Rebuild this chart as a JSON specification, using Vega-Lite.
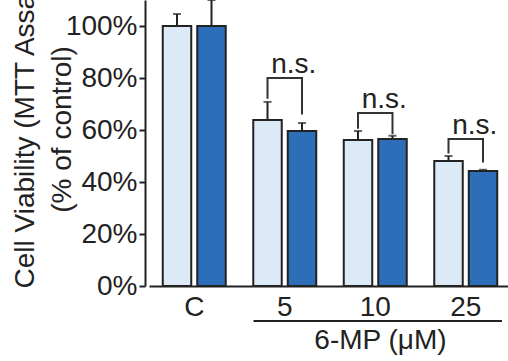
{
  "$schema": "https://vega.github.io/schema/vega-lite/v6.json",
  "autosize": {"type": "none"},
  "width": 363,
  "height": 286,
  "padding": {"left": 145, "top": 0, "right": 0, "bottom": 75},
  "background": "white",
  "config": {
    "view": {"stroke": null},
    "font": "Liberation Sans",
    "axis": {"domainColor": "#222", "domainWidth": 2, "labelFont": "Liberation Sans", "titleFont": "Liberation Sans", "labelColor": "#222", "titleColor": "#222", "labelFontSize": 28, "titleFontSize": 28, "titleFontWeight": "normal", "grid": false}
  },
  "datasets": {
    "bars": [
      {"group": "C", "series": "a", "value": 100, "hi": 104.6},
      {"group": "C", "series": "b", "value": 100, "hi": 110},
      {"group": "5", "series": "a", "value": 63.8, "hi": 70.8},
      {"group": "5", "series": "b", "value": 59.6, "hi": 62.7},
      {"group": "10", "series": "a", "value": 56.2, "hi": 59.6},
      {"group": "10", "series": "b", "value": 56.5, "hi": 57.8},
      {"group": "25", "series": "a", "value": 48.1, "hi": 50.0},
      {"group": "25", "series": "b", "value": 44.2, "hi": 44.7}
    ],
    "brackets": [
      {"group": "5", "series": "a", "y": 72, "idx": 0},
      {"group": "5", "series": "a", "y": 80, "idx": 1},
      {"group": "5", "series": "b", "y": 80, "idx": 2},
      {"group": "5", "series": "b", "y": 66, "idx": 3},
      {"group": "10", "series": "a", "y": 60.5, "idx": 0},
      {"group": "10", "series": "a", "y": 66.5, "idx": 1},
      {"group": "10", "series": "b", "y": 66.5, "idx": 2},
      {"group": "10", "series": "b", "y": 58.5, "idx": 3},
      {"group": "25", "series": "a", "y": 51, "idx": 0},
      {"group": "25", "series": "a", "y": 56.5, "idx": 1},
      {"group": "25", "series": "b", "y": 56.5, "idx": 2},
      {"group": "25", "series": "b", "y": 47.5, "idx": 3}
    ],
    "labels": [
      {"group": "5", "y": 80, "text": "n.s."},
      {"group": "10", "y": 66.5, "text": "n.s."},
      {"group": "25", "y": 56.5, "text": "n.s."}
    ],
    "underline": [
      {"from": "5", "to": "25", "y": -13.5}
    ]
  },
  "layer": [
    {
      "data": {"name": "bars"},
      "mark": {"type": "rule", "strokeWidth": 2, "color": "#222"},
      "encoding": {
        "x": {"field": "group", "type": "nominal"},
        "xOffset": {"field": "series", "type": "nominal"},
        "y": {"field": "value", "type": "quantitative"},
        "y2": {"field": "hi"}
      }
    },
    {
      "data": {"name": "bars"},
      "mark": {"type": "tick", "orient": "horizontal", "size": 8, "thickness": 2, "color": "#222", "clip": true},
      "encoding": {
        "x": {"field": "group", "type": "nominal"},
        "xOffset": {"field": "series", "type": "nominal"},
        "y": {"field": "hi", "type": "quantitative"}
      }
    },
    {
      "data": {"name": "bars"},
      "mark": {"type": "bar", "stroke": "#222", "strokeWidth": 2},
      "encoding": {
        "x": {
          "field": "group", "type": "nominal",
          "scale": {"domain": ["C", "5", "10", "25"], "range": [4, 366], "paddingInner": 0, "paddingOuter": 0},
          "axis": {"title": "6-MP (μM)", "labelAngle": 0, "ticks": false, "bandPosition": 0.5, "labelAlign": "center", "labelPadding": 7, "labelBaseline": "top", "titleX": 235, "titleY": 54, "titleBaseline": "middle", "titleAlign": "center"}
        },
        "xOffset": {
          "field": "series", "type": "nominal",
          "scale": {"domain": ["a", "b"], "paddingInner": 0.174, "paddingOuter": 0.399}
        },
        "y": {
          "field": "value", "type": "quantitative",
          "scale": {"domain": [0, 110], "nice": false},
          "axis": {
            "values": [0, 10, 20, 30, 40, 50, 60, 70, 80, 90, 100],
            "labelExpr": "datum.value % 20 === 0 ? datum.value + '%' : ''",
            "tickSize": {"condition": {"test": "datum.value % 20 === 0", "value": 6}, "value": 3},
            "tickColor": "#222", "tickWidth": 2,
            "labelPadding": 2,
            "title": ["Cell Viability (MTT Assay)", "(% of control)"],
            "titleAngle": 270, "titleX": -112, "titleY": 129, "titleAlign": "center", "titleBaseline": "alphabetic", "titleLineHeight": 37
          }
        },
        "fill": {"field": "series", "type": "nominal", "scale": {"domain": ["a", "b"], "range": ["#dce9f6", "#2c6fb8"]}, "legend": null}
      }
    },
    {
      "data": {"name": "brackets"},
      "mark": {"type": "line", "color": "#333", "strokeWidth": 2, "strokeJoin": "miter"},
      "encoding": {
        "x": {"field": "group", "type": "nominal"},
        "xOffset": {"field": "series", "type": "nominal"},
        "y": {"field": "y", "type": "quantitative"},
        "detail": {"field": "group"},
        "order": {"field": "idx"}
      }
    },
    {
      "data": {"name": "labels"},
      "mark": {"type": "text", "fontSize": 28, "color": "#222", "dx": 9, "dy": -5, "baseline": "alphabetic", "font": "Liberation Sans"},
      "encoding": {
        "x": {"field": "group", "type": "nominal"},
        "y": {"field": "y", "type": "quantitative"},
        "text": {"field": "text"}
      }
    },
    {
      "data": {"name": "underline"},
      "mark": {"type": "rule", "color": "#222", "strokeWidth": 2, "clip": false},
      "encoding": {
        "x": {"field": "from", "type": "nominal", "bandPosition": 0.155},
        "x2": {"field": "to", "bandPosition": 0.9},
        "y": {"field": "y", "type": "quantitative"}
      }
    }
  ]
}
